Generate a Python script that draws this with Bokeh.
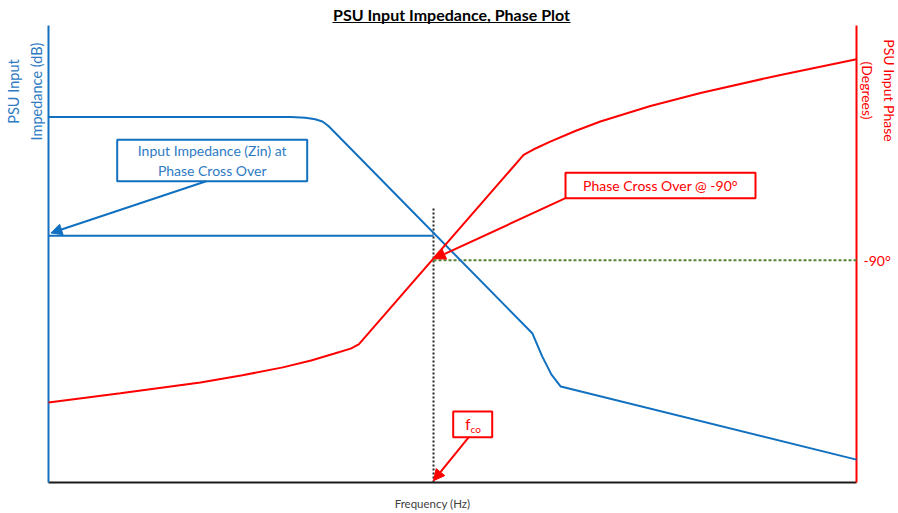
import numpy as np
from bokeh.plotting import figure
from bokeh.models import Range1d, Arrow, NormalHead
from bokeh.core.properties import value
from bokeh.embed import file_html
from bokeh.resources import INLINE

# ---------------- data (schematic, normalised units) ----------------
# impedance curve: frequency (0..100 normalised) vs impedance (0..100 normalised dB)
freq_z = [0, 30.0, 31.8, 33.0, 33.9, 34.65, 59.9, 61.1, 62.25, 63.4, 100]
impedance_db = [80.0, 80.0, 79.8, 79.5, 79.0, 78.0, 32.6, 27.6, 23.6, 21.0, 5.0]
# phase curve: frequency vs phase (degrees)
freq_ph = [0, 8.9, 18.8, 24.0, 29.0, 32.5, 35.3, 37.4, 38.4, 58.8, 60.0, 62.1,
           65.2, 68.3, 74.5, 80.7, 90.6, 100]
phase_deg = [-147.6, -143.9, -139.5, -136.6, -133.4, -130.6, -127.9, -125.8, -124.05,
             -47.4, -45.2, -42.0, -37.7, -33.85, -27.6, -22.3, -15.0, -8.7]
f_crossover = 47.65        # crossover frequency
zin_at_crossover = 54.0    # impedance at crossover
phase_crossover = -90      # degrees
marker_top = 60            # top of dotted fco marker (impedance units)
phase_tick_label = "-90°"

# axis extents of the chart area
F0, F1 = 0, 100
Z0, Z1 = 0, 100
P0, P1 = -180, 5

# ---------------- layout ----------------
W, H = 898, 513
OFF = 0                               # page offset of the figure
L, R, T, B = 48, 856, 25, 482         # chart area in figure pixels
sx = (R - L) / (F1 - F0)
sz = (B - T) / (Z1 - Z0)
sp = (B - T) / (P1 - P0)

x_range = Range1d(F0 - L / sx, F1 + (W - R) / sx)
y_range = Range1d(Z0 - (H - B) / sz, Z1 + T / sz)
phase_range = Range1d(P0 - (H - B) / sp, P1 + T / sp)

def X(px):   # page pixel -> frequency units
    return F0 + (px - OFF - L) / sx

def Y(py):   # page pixel -> impedance units
    return Z0 + (B - (py - OFF)) / sz

def YP(py):  # page pixel -> phase units
    return P0 + (B - (py - OFF)) / sp

BLUE = "#1170C0"
BLUE_TXT = "#2E7BC4"
RED = "#FF0000"
GREEN = "#548235"
FONT = value("Lato")

p = figure(width=W, height=H, x_range=x_range, y_range=y_range,
           output_backend="svg", toolbar_location=None,
           x_axis_location=None, y_axis_location=None, title=None,
           min_border=0, outline_line_color=None,
           background_fill_color="white", border_fill_color="white")
p.extra_y_ranges = {"phase": phase_range}
p.grid.visible = False

# axes lines
p.line([F0, F1], [Z0, Z0], line_color="#1a1a1a", line_width=2)
p.line([F0, F0], [Z0, Z1], line_color=BLUE, line_width=2)
p.line([F1, F1], [P0, P1], line_color=RED, line_width=2, y_range_name="phase")

# reference lines
p.line([f_crossover, f_crossover], [Z0, marker_top], line_color="#262626",
       line_width=2, line_dash="2 2")
p.line([f_crossover, F1], [phase_crossover, phase_crossover], line_color=GREEN,
       line_width=2, line_dash="3 2", y_range_name="phase")
p.line([F0, f_crossover], [zin_at_crossover, zin_at_crossover],
       line_color=BLUE, line_width=2)

# curves
p.line(freq_z, impedance_db, line_color=BLUE, line_width=2)
p.line(freq_ph, phase_deg, line_color=RED, line_width=2, y_range_name="phase")

# title
p.text(x=[X(451)], y=[Y(14)], text=["PSU Input Impedance, Phase Plot"],
       text_font=FONT, text_font_style="bold", text_font_size="16px",
       text_align="center", text_baseline="middle", text_color="black")
p.line([X(332), X(570)], [Y(22), Y(22)], line_color="black", line_width=1.2)

# axis labels
p.text(x=[X(24.5)], y=[Y(91)], text=["PSU Input\nImpedance (dB)"], angle=np.pi / 2,
       text_font=FONT, text_font_size="14.5px", text_align="center",
       text_baseline="middle", text_color=BLUE_TXT, text_line_height=1.3)
p.text(x=[X(878)], y=[Y(90)], text=["PSU Input Phase\n(Degrees)"], angle=-np.pi / 2,
       text_font=FONT, text_font_size="14px", text_align="center",
       text_baseline="middle", text_color=RED, text_line_height=1.25)
p.text(x=[F1], y=[phase_crossover], x_offset=7, y_range_name="phase",
       text=[phase_tick_label], text_font=FONT, text_font_size="14px",
       text_align="left", text_baseline="middle", text_color=RED)
p.text(x=[X(432)], y=[Y(503)], text=["Frequency (Hz)"], text_font=FONT,
       text_font_size="11.5px", text_align="center", text_baseline="middle",
       text_color="#404040")

# callout boxes
p.quad(left=[X(116.7)], right=[X(306.7)], top=[Y(139.3)], bottom=[Y(180.7)],
       fill_color="white", line_color=BLUE, line_width=2)
p.text(x=[X(211.7)], y=[Y(160)], text=["Input Impedance (Zin) at\nPhase Cross Over"],
       text_font=FONT, text_font_size="14px", text_align="center",
       text_baseline="middle", text_color=BLUE_TXT, text_line_height=1.2)

p.quad(left=[X(565)], right=[X(755)], top=[Y(172.3)], bottom=[Y(197.7)],
       fill_color="white", line_color=RED, line_width=2)
p.text(x=[X(660)], y=[Y(185)], text=["Phase Cross Over @ -90°"],
       text_font=FONT, text_font_size="14px", text_align="center",
       text_baseline="middle", text_color=RED)

p.quad(left=[X(452.7)], right=[X(491.7)], top=[Y(411)], bottom=[Y(436.7)],
       fill_color="white", line_color=RED, line_width=2)
p.text(x=[X(470)], y=[Y(423)], text=["f"], text_font=FONT, text_font_size="15px",
       text_align="right", text_baseline="middle", text_color=RED)
p.text(x=[X(470)], y=[Y(428)], text=["co"], text_font=FONT, text_font_size="10px",
       text_align="left", text_baseline="middle", text_color=RED)

# arrows
p.add_layout(Arrow(end=NormalHead(size=11, fill_color=BLUE, line_color=BLUE),
                   x_start=X(205.7), y_start=Y(180.7),
                   x_end=F0 + 0.3, y_end=zin_at_crossover + 0.6,
                   line_color=BLUE, line_width=2))
p.add_layout(Arrow(end=NormalHead(size=11, fill_color=RED, line_color=RED),
                   x_start=X(565), y_start=YP(197.7),
                   x_end=f_crossover + 0.1, y_end=phase_crossover + 0.6,
                   line_color=RED, line_width=2, y_range_name="phase"))
p.add_layout(Arrow(end=NormalHead(size=11, fill_color=RED, line_color=RED),
                   x_start=X(468.3), y_start=Y(436.7),
                   x_end=f_crossover, y_end=Z0 + 0.4,
                   line_color=RED, line_width=2))

open("out.html", "w").write(file_html(p, INLINE))
